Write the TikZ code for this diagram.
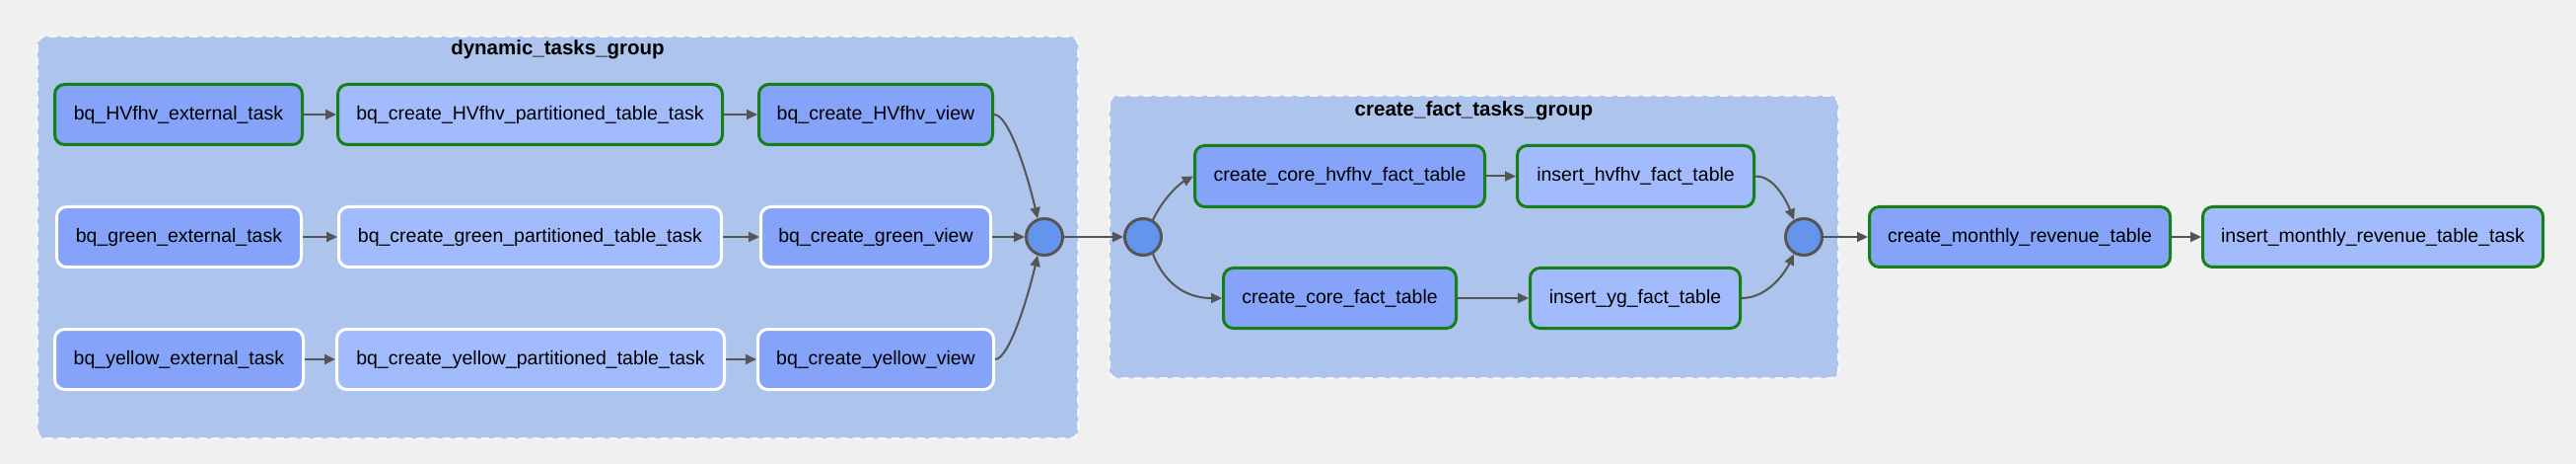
\documentclass[tikz,border=0pt]{standalone}
\usepackage{fontspec}
\setmainfont{Liberation Sans}
\usetikzlibrary{arrows.meta}
\definecolor{bg}{HTML}{F0F0F0}
\definecolor{grp}{HTML}{ADC4EC}
\definecolor{darkf}{HTML}{84A3F9}
\definecolor{lightf}{HTML}{A1BBFC}
\definecolor{circ}{HTML}{6495ED}
\definecolor{edgec}{HTML}{555555}
\definecolor{okc}{HTML}{168016}
\begin{document}
\begin{tikzpicture}[x=1pt,y=-1pt,
 task/.style={rounded corners=10pt, line width=3pt, inner sep=0pt, minimum height=61pt, font=\fontsize{19.5}{23}\selectfont, text=black},
 darkfill/.style={fill=darkf}, lightfill/.style={fill=lightf},
 done/.style={draw=okc}, nostate/.style={draw=white},
 joinpt/.style={circle, fill=circ, draw=edgec, line width=3pt, minimum size=37pt, inner sep=0pt},
 grpbox/.style={fill=grp, draw=white, draw opacity=0.8, dash pattern=on 8pt off 5pt, line width=2pt, rounded corners=8pt},
 grptitle/.style={font=\bfseries\fontsize{20.5}{24}\selectfont, inner sep=0pt},
 conn/.style={draw=edgec, line width=2pt, -{Triangle[length=11pt,width=10pt]}}
]
\fill[bg] (0,0) rectangle (2612,470);
\useasboundingbox (0,0) rectangle (2612,470);

% groups
\path[grpbox] (38,37) rectangle (1093,444);
\node[grptitle] (t1) at (565.5,50) {dynamic\_tasks\_group};
\path[grpbox] (1125,97) rectangle (1864,383);
\node[grptitle] (t2) at (1494.5,112) {create\_fact\_tasks\_group};

% row 1
\node[task,darkfill,done,minimum width=251pt] (n11) at (181,116) {bq\_HVfhv\_external\_task};
\node[task,lightfill,done,minimum width=390pt] (n12) at (537.5,116) {bq\_create\_HVfhv\_partitioned\_table\_task};
\node[task,darkfill,done,minimum width=237pt] (n13) at (888,116) {bq\_create\_HVfhv\_view};
% row 2
\node[task,darkfill,nostate,minimum width=248pt] (n21) at (181.5,240) {bq\_green\_external\_task};
\node[task,lightfill,nostate,minimum width=388pt] (n22) at (537.5,240) {bq\_create\_green\_partitioned\_table\_task};
\node[task,darkfill,nostate,minimum width=233pt] (n23) at (888,240) {bq\_create\_green\_view};
% row 3
\node[task,darkfill,nostate,minimum width=252pt] (n31) at (181.5,364) {bq\_yellow\_external\_task};
\node[task,lightfill,nostate,minimum width=393pt] (n32) at (538,364) {bq\_create\_yellow\_partitioned\_table\_task};
\node[task,darkfill,nostate,minimum width=239pt] (n33) at (888,364) {bq\_create\_yellow\_view};

% joins
\node[joinpt] (c1) at (1059,240) {};
\node[joinpt] (c2) at (1159,240) {};
\node[joinpt] (c3) at (1829,240) {};

% fact group
\node[task,darkfill,done,minimum width=294pt,minimum height=62pt] (f1) at (1358.5,178.5) {create\_core\_hvfhv\_fact\_table};
\node[task,lightfill,done,minimum width=240pt,minimum height=62pt] (f2) at (1658.5,178.5) {insert\_hvfhv\_fact\_table};
\node[task,darkfill,done,minimum width=236pt] (f3) at (1358.5,302) {create\_core\_fact\_table};
\node[task,lightfill,done,minimum width=213pt] (f4) at (1658,302) {insert\_yg\_fact\_table};

% final
\node[task,darkfill,done,minimum width=305pt] (m1) at (2048,240) {create\_monthly\_revenue\_table};
\node[task,lightfill,done,minimum width=345pt] (m2) at (2406,240) {insert\_monthly\_revenue\_table\_task};

% connectors
\draw[conn] (n11) -- (n12);
\draw[conn] (n12) -- (n13);
\draw[conn] (n21) -- (n22);
\draw[conn] (n22) -- (n23);
\draw[conn] (n31) -- (n32);
\draw[conn] (n32) -- (n33);
\draw[conn] (n13.east) .. controls (1022,116) and (1040,170) .. (c1.110);
\draw[conn] (n23) -- (c1);
\draw[conn] (n33.east) .. controls (1022,364) and (1040,310) .. (c1.250);
\draw[conn] (c1) -- (c2);
\draw[conn] (c2.60) .. controls (1180,200) and (1196,186) .. (f1.west);
\draw[conn] (c2.-60) .. controls (1182,290) and (1205,302) .. (f3.west);
\draw[conn] (f1) -- (f2);
\draw[conn] (f3) -- (f4);
\draw[conn] (f2.east) .. controls (1795,178) and (1808,195) .. (c3.120);
\draw[conn] (f4.east) .. controls (1790,302) and (1808,280) .. (c3.240);
\draw[conn] (c3) -- (m1);
\draw[conn] (m1) -- (m2);
\end{tikzpicture}
\end{document}
